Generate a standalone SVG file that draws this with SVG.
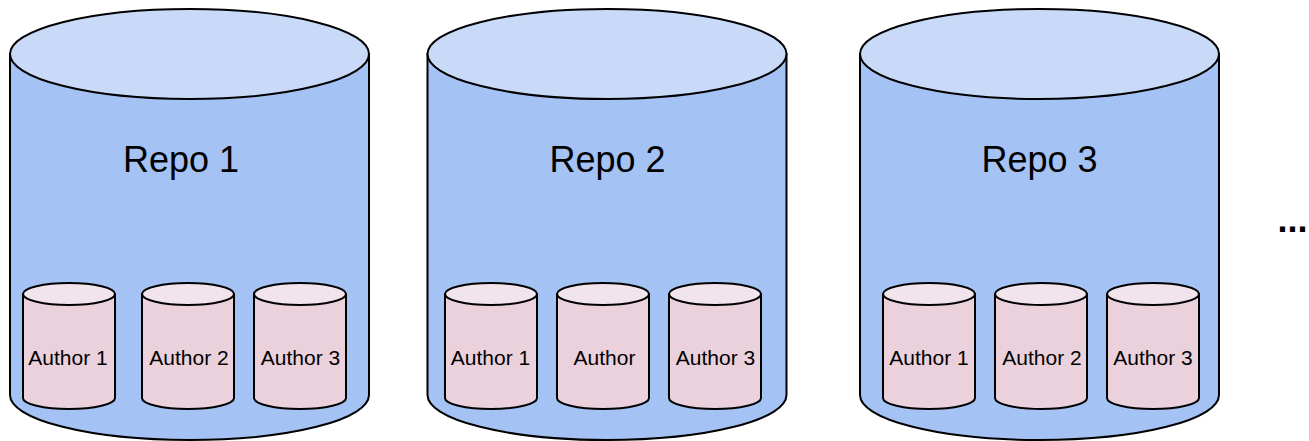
<svg xmlns="http://www.w3.org/2000/svg" xmlns:xlink="http://www.w3.org/1999/xlink" width="1309" height="441" viewBox="0 0 1309 441">
  <style>
    .bigbody { fill: #a4c2f4; stroke: #000; stroke-width: 2; }
    .bigtop { fill: #c9daf8; stroke: #000; stroke-width: 2; }
    .smbody { fill: #ead1dc; stroke: #000; stroke-width: 2; }
    .smtop { fill: #f2e4ec; stroke: #000; stroke-width: 2; }
    .repo { font-family: "Liberation Sans", Arial, sans-serif; font-size: 36px; fill: #000; text-anchor: middle; }
    .author { font-family: "Liberation Sans", Arial, sans-serif; font-size: 21px; fill: #000; text-anchor: middle; }
    .dots { font-family: "Liberation Sans", Arial, sans-serif; font-size: 36px; font-weight: bold; fill: #000; }
  </style>
  <defs>
    <g id="bigcyl">
      <path class="bigbody" d="M0,45 L0,386 A179.5,45 0 0 0 359,386 L359,45 Z"/>
      <ellipse class="bigtop" cx="179.5" cy="45" rx="179.5" ry="45"/>
    </g>
    <g id="smcyl">
      <path class="smbody" d="M0,11 L0,115 A46,11 0 0 0 92,115 L92,11 Z"/>
      <ellipse class="smtop" cx="46" cy="11" rx="46" ry="11"/>
    </g>
  </defs>
  <rect width="1309" height="441" fill="#ffffff"/>

  <g id="repo1">
    <use xlink:href="#bigcyl" x="10" y="9"/>
    <text class="repo" x="181" y="172">Repo 1</text>
  </g>
  <g id="repo1-author1">
    <use xlink:href="#smcyl" x="23" y="283"/>
    <text class="author" x="68" y="364.5">Author 1</text>
  </g>
  <g id="repo1-author2">
    <use xlink:href="#smcyl" x="142" y="283"/>
    <text class="author" x="189" y="364.5">Author 2</text>
  </g>
  <g id="repo1-author3">
    <use xlink:href="#smcyl" x="254" y="283"/>
    <text class="author" x="300.5" y="364.5">Author 3</text>
  </g>

  <g id="repo2">
    <use xlink:href="#bigcyl" x="427.5" y="9"/>
    <text class="repo" x="607.5" y="172">Repo 2</text>
  </g>
  <g id="repo2-author1">
    <use xlink:href="#smcyl" x="445" y="283"/>
    <text class="author" x="490.5" y="364.5">Author 1</text>
  </g>
  <g id="repo2-author2">
    <use xlink:href="#smcyl" x="557" y="283"/>
    <text class="author" x="604.5" y="364.5">Author</text>
  </g>
  <g id="repo2-author3">
    <use xlink:href="#smcyl" x="669" y="283"/>
    <text class="author" x="715.5" y="364.5">Author 3</text>
  </g>

  <g id="repo3">
    <use xlink:href="#bigcyl" x="860" y="9"/>
    <text class="repo" x="1039.5" y="172">Repo 3</text>
  </g>
  <g id="repo3-author1">
    <use xlink:href="#smcyl" x="883" y="283"/>
    <text class="author" x="929" y="364.5">Author 1</text>
  </g>
  <g id="repo3-author2">
    <use xlink:href="#smcyl" x="995" y="283"/>
    <text class="author" x="1042" y="364.5">Author 2</text>
  </g>
  <g id="repo3-author3">
    <use xlink:href="#smcyl" x="1107" y="283"/>
    <text class="author" x="1153" y="364.5">Author 3</text>
  </g>

  <g id="ellipsis">
    <text class="dots" x="1277.5" y="232">...</text>
  </g>

  <g id="connectors"></g>
</svg>
